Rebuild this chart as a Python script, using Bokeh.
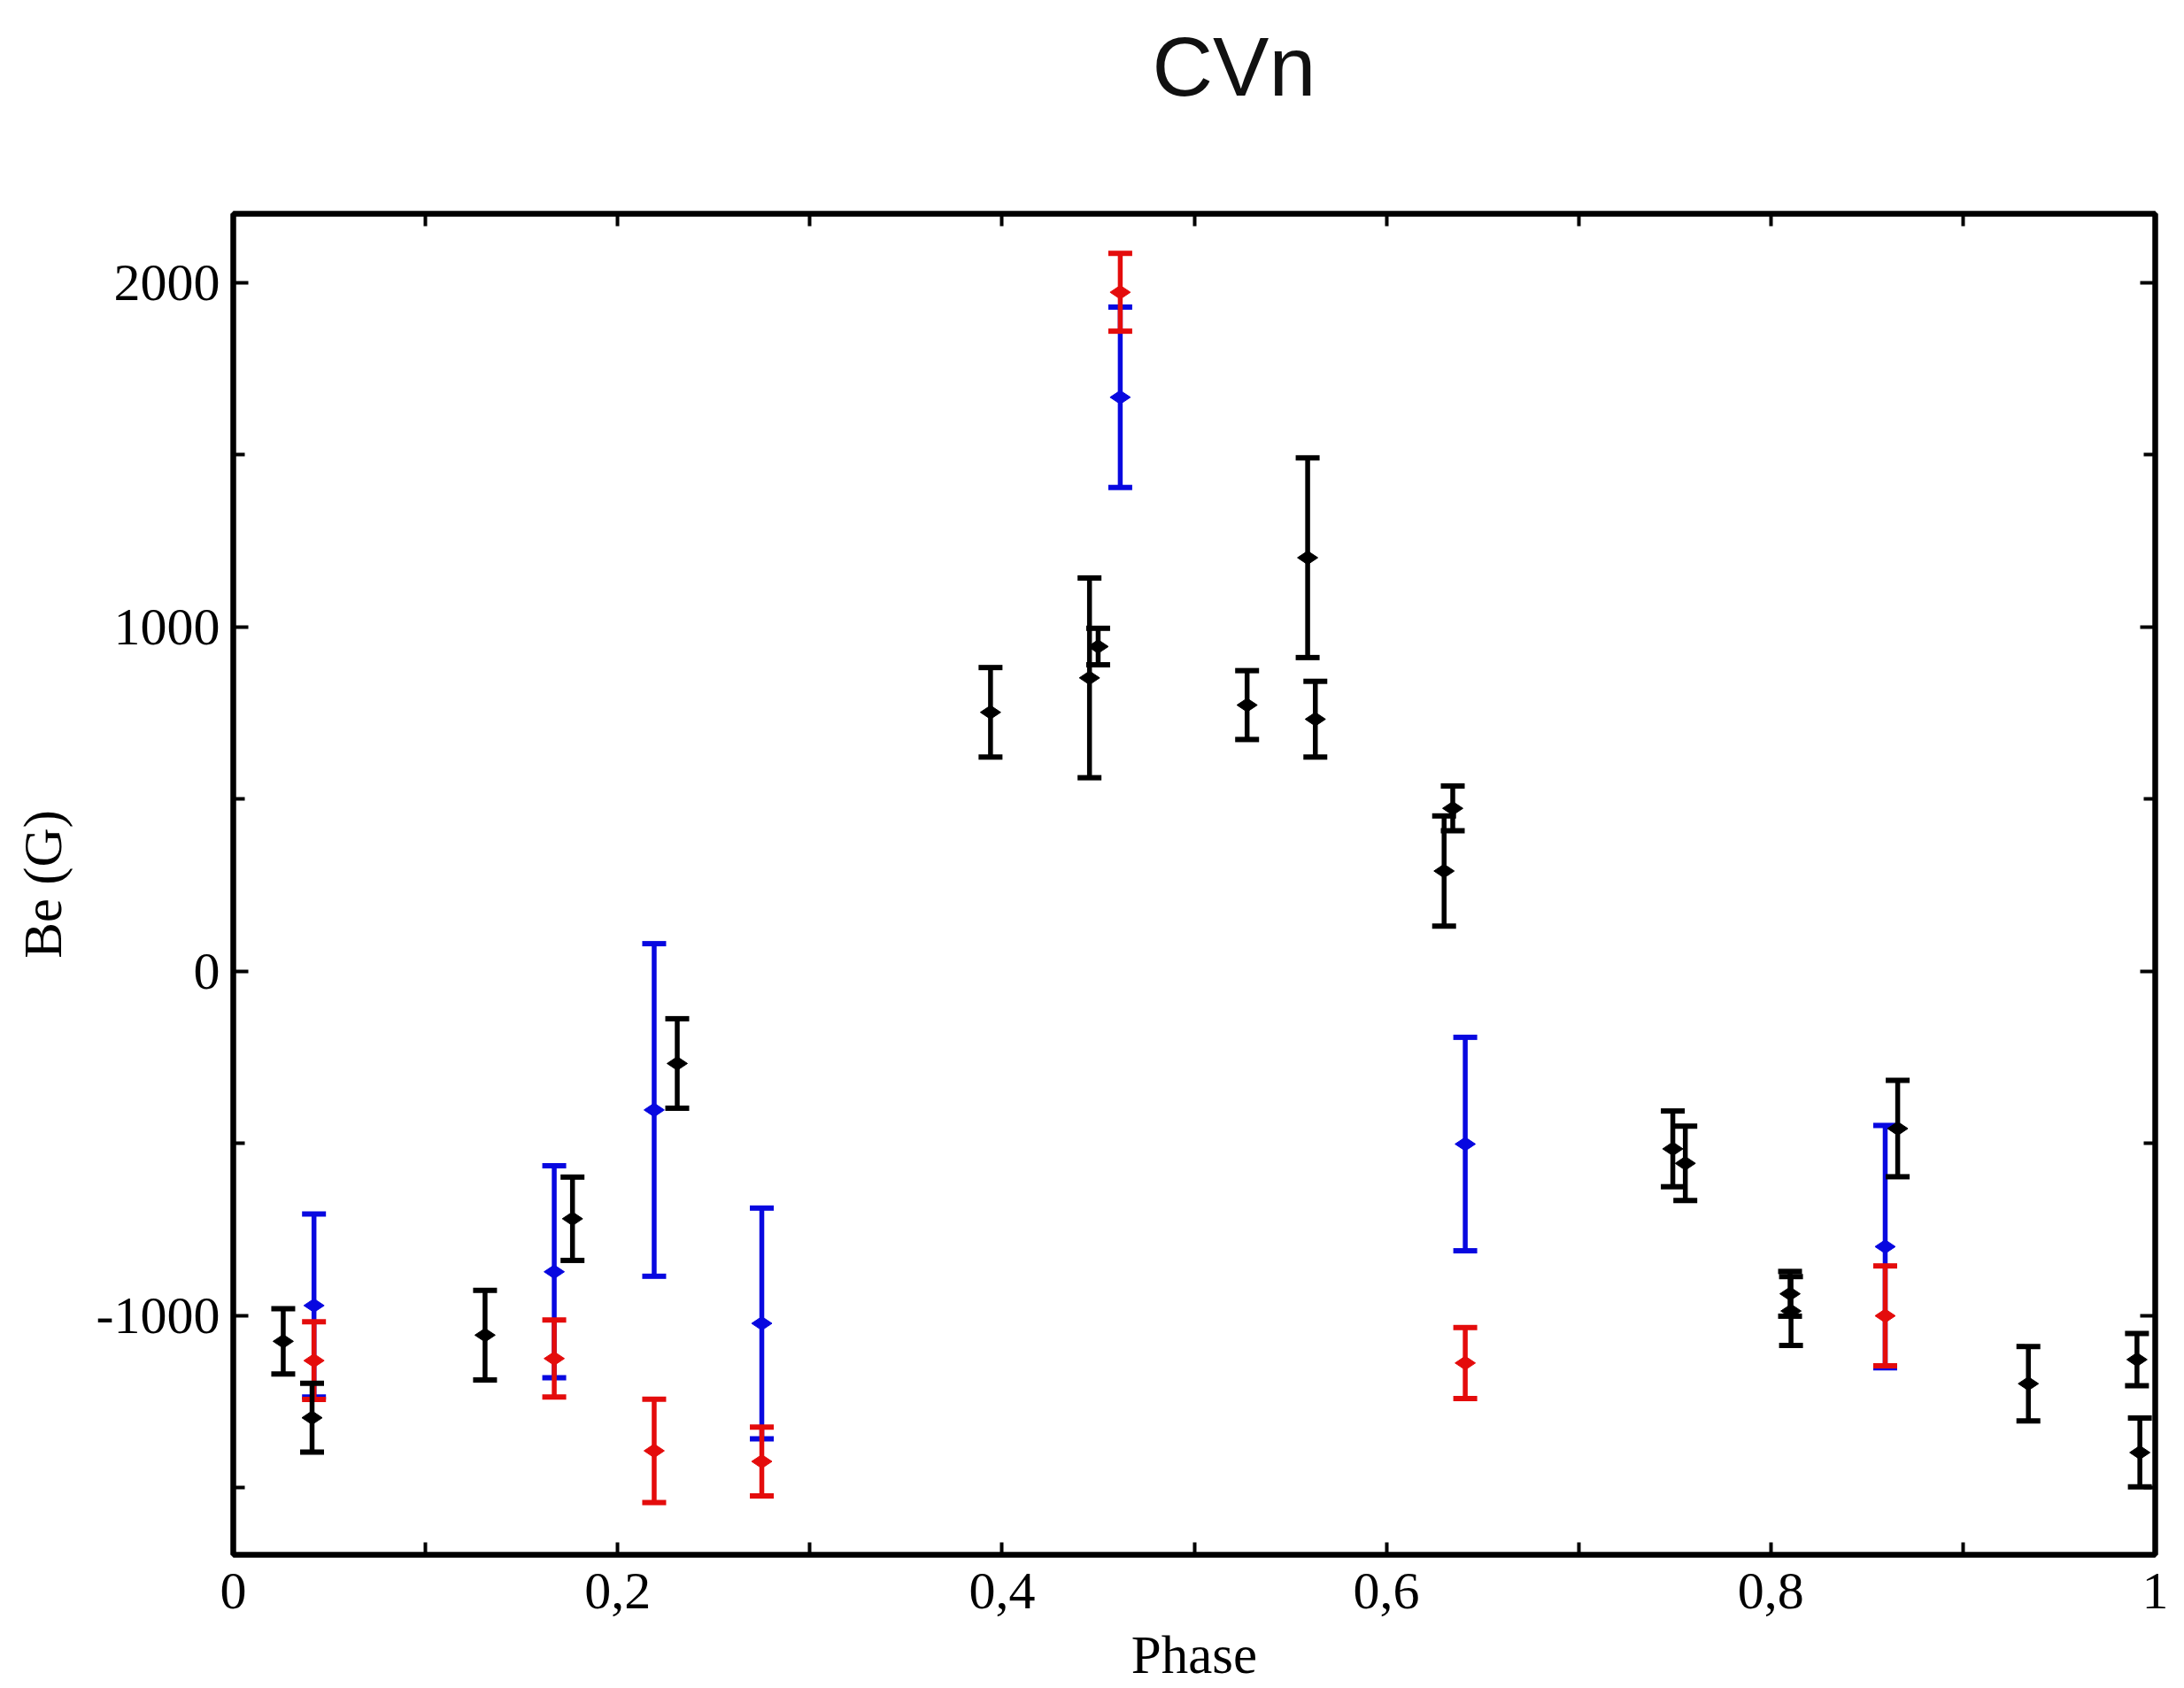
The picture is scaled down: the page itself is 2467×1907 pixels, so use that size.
import math
from bokeh.plotting import figure
from bokeh.models import FixedTicker, LinearAxis, Range1d
from bokeh.embed import file_html
from bokeh.resources import INLINE

# ---- data (phase, Be, error) ----
black_phase = [0.026, 0.041, 0.131, 0.1765, 0.231, 0.394, 0.4455, 0.450, 0.5275, 0.559, 0.563,
               0.630, 0.6345, 0.749, 0.7555, 0.810, 0.8105, 0.866, 0.934, 0.9905, 0.992]
black_be = [-1075, -1297, -1057, -719, -268, 752, 852, 943, 773, 1201, 732,
            291, 473, -516, -558, -937, -987, -457, -1198, -1128, -1398]
black_err = [95, 100, 130, 121, 130, 130, 290, 53, 100, 290, 110,
             160, 65, 110, 108, 65, 100, 140, 108, 76, 100]

blue_phase = [0.042, 0.167, 0.219, 0.275, 0.4615, 0.641, 0.8595]
blue_be = [-971, -873, -403, -1023, 1667, -502, -800]
blue_err = [266, 308, 483, 335, 262, 310, 352]

red_phase = [0.042, 0.167, 0.219, 0.275, 0.4615, 0.641, 0.8595]
red_be = [-1131, -1125, -1393, -1424, 1972, -1138, -1001]
red_err = [113, 112, 150, 100, 113, 103, 145]

x_ticks = [0, 0.2, 0.4, 0.6, 0.8, 1.0]
x_tick_labels = ["0", "0,2", "0,4", "0,6", "0,8", "1"]
x_minor = [0.1, 0.3, 0.5, 0.7, 0.9]
y_ticks = [-1000, 0, 1000, 2000]
y_tick_labels = ["-1000", "0", "1000", "2000"]
y_minor = [-1500, -500, 500, 1500]

title_text = "CVn"

SERIF = "Liberation Serif"
Y0, Y1 = -1695, 2200

p = figure(width=2451, height=1907, output_backend="svg", toolbar_location=None,
           x_range=Range1d(0, 1), y_range=Range1d(Y0, Y1),
           min_border_left=263, min_border_right=17, min_border_top=241, min_border_bottom=151,
           background_fill_color="white", border_fill_color="white")
p.xgrid.visible = False
p.ygrid.visible = False
p.outline_line_color = "black"
p.outline_line_width = 6

# title: a trailing empty line lifts the text well above the frame
p.title.text = title_text + "\n"
p.title.align = "left"
p.title.offset = 1038
p.title.standoff = 16
p.title.text_font = "Liberation Sans"
p.title.text_font_style = "normal"
p.title.text_font_size = "95px"
p.title.text_color = "#111111"

xt = FixedTicker(ticks=x_ticks, minor_ticks=x_minor)
yt = FixedTicker(ticks=y_ticks, minor_ticks=y_minor)


def style(ax, tick_major, tick_minor, labels=True):
    ax.axis_line_width = 6
    ax.axis_line_color = "black"
    ax.major_tick_in = tick_major
    ax.major_tick_out = 0
    ax.minor_tick_in = tick_minor
    ax.minor_tick_out = 0
    ax.major_tick_line_width = 4
    ax.minor_tick_line_width = 4
    ax.major_tick_line_color = "black"
    ax.minor_tick_line_color = "black"
    if labels:
        ax.major_label_text_font = SERIF
        ax.major_label_text_font_size = "60px"
        ax.major_label_text_color = "black"
        ax.axis_label_text_font = SERIF
        ax.axis_label_text_font_size = "61px"
        ax.axis_label_text_font_style = "normal"
        ax.axis_label_text_color = "black"
    else:
        ax.major_label_text_font_size = "0px"
        ax.major_label_text_alpha = 0


xa = p.xaxis[0]
xa.ticker = xt
xa.major_label_overrides = dict(zip(x_ticks, x_tick_labels))
xa.axis_label = "Phase"
style(xa, 14, 14)
xa.major_label_standoff = 21
xa.axis_label_standoff = 16

ya = p.yaxis[0]
ya.ticker = yt
ya.major_label_overrides = dict(zip(y_ticks, y_tick_labels))
ya.axis_label = "Be (G)"
style(ya, 17, 13)
ya.major_label_standoff = 15
ya.axis_label_standoff = 24

top = LinearAxis(ticker=xt)
style(top, 14, 14, labels=False)
p.add_layout(top, "above")
right = LinearAxis(ticker=yt)
style(right, 17, 13, labels=False)
p.add_layout(right, "right")


def draw(xs, ys, es, color):
    lo = [y - e for y, e in zip(ys, es)]
    hi = [y + e for y, e in zip(ys, es)]
    p.segment(x0=xs, y0=lo, x1=xs, y1=hi, line_color=color, line_width=5.5)
    p.scatter(x=xs, y=hi, marker="dash", size=27, line_color=color, line_width=6)
    p.scatter(x=xs, y=lo, marker="dash", size=27, line_color=color, line_width=6)
    p.scatter(x=xs, y=ys, marker="diamond", size=23, angle=math.pi / 2,
              line_color=color, fill_color=color)


draw(blue_phase, blue_be, blue_err, "#0808e0")
draw(red_phase, red_be, red_err, "#e40c0c")
draw(black_phase, black_be, black_err, "black")

open("out.html", "w").write(file_html(p, INLINE))
